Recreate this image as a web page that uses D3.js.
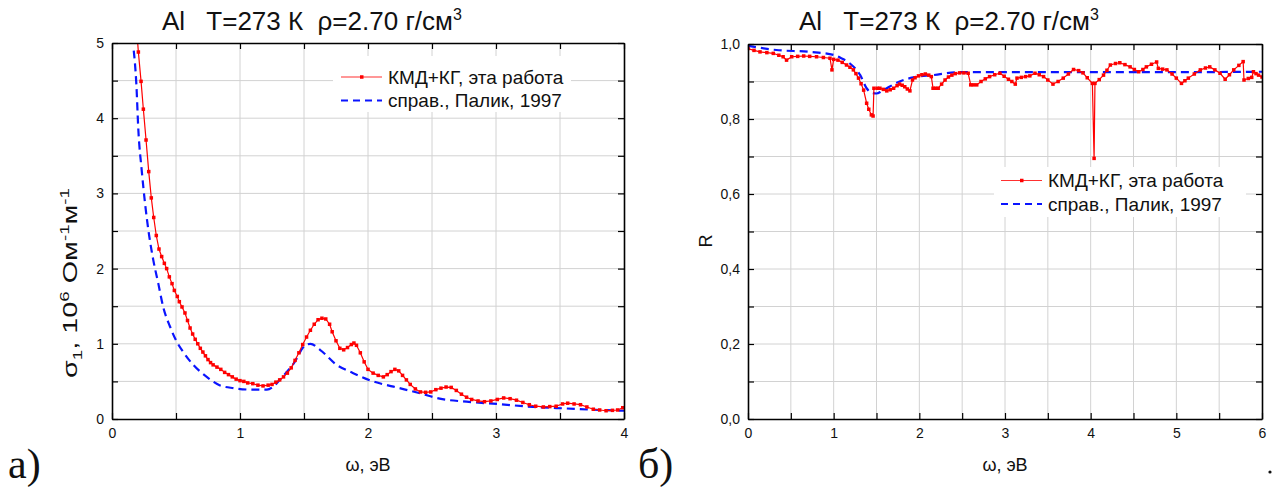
<!DOCTYPE html>
<html>
<head>
<meta charset="utf-8">
<script src="https://d3js.org/d3.v7.min.js"></script>
<style>
  body { margin: 0; background: #fff; }
  text { font-family: "Liberation Sans", Arial, sans-serif; fill: #111; white-space: pre; }
</style>
</head>
<body>
<svg id="fig" width="1280" height="490"></svg>
<script>

// ---- data: panel а) sigma_1 (10^6 Ohm^-1 m^-1) vs omega (eV)
var sigmaCalc = [
  [0.19,5.25],[0.206,4.88],[0.227,4.49],[0.245,4.12],[0.266,3.71],[0.287,3.29],[0.307,2.94],
  [0.326,2.68],[0.346,2.44],[0.367,2.26],[0.388,2.16],[0.409,2.07],[0.427,2.00],[0.448,1.89],
  [0.469,1.80],[0.487,1.71],[0.51,1.63],[0.526,1.56],[0.547,1.49],[0.57,1.41],[0.59,1.31],
  [0.61,1.21],[0.63,1.13],[0.65,1.06],[0.67,1.00],[0.69,0.94],[0.71,0.89],[0.73,0.84],
  [0.75,0.79],[0.77,0.75],[0.79,0.72],[0.82,0.69],[0.85,0.66],[0.88,0.62],[0.91,0.59],
  [0.94,0.56],[0.97,0.53],[1.00,0.51],[1.03,0.50],[1.06,0.48],[1.10,0.47],[1.14,0.45],
  [1.18,0.44],[1.22,0.45],[1.25,0.46],[1.28,0.49],[1.31,0.52],[1.34,0.56],[1.37,0.61],
  [1.40,0.68],[1.43,0.78],[1.46,0.88],[1.49,0.99],[1.52,1.09],[1.55,1.18],[1.58,1.26],
  [1.61,1.32],[1.64,1.34],[1.67,1.33],[1.70,1.26],[1.72,1.16],[1.75,1.04],[1.78,0.94],
  [1.81,0.92],[1.84,0.95],[1.87,0.99],[1.89,1.01],[1.91,0.98],[1.94,0.88],[1.97,0.76],
  [2.00,0.66],[2.04,0.61],[2.08,0.58],[2.12,0.56],[2.15,0.59],[2.18,0.63],[2.21,0.66],
  [2.24,0.64],[2.27,0.58],[2.30,0.52],[2.33,0.46],[2.37,0.40],[2.41,0.36],[2.45,0.355],
  [2.49,0.36],[2.53,0.39],[2.57,0.41],[2.61,0.425],[2.65,0.42],[2.69,0.38],[2.73,0.33],
  [2.77,0.29],[2.81,0.26],[2.86,0.24],[2.91,0.23],[2.96,0.24],[3.01,0.26],[3.06,0.28],
  [3.11,0.27],[3.16,0.25],[3.21,0.22],[3.26,0.19],[3.31,0.17],[3.37,0.16],[3.42,0.165],
  [3.47,0.17],[3.52,0.20],[3.56,0.21],[3.61,0.20],[3.66,0.19],[3.71,0.16],[3.76,0.13],
  [3.81,0.12],[3.86,0.11],[3.91,0.115],[3.95,0.12],[3.99,0.15]
];
var sigmaPalik = [
  [0.17,4.9],[0.19,4.46],[0.206,3.84],[0.232,3.31],[0.258,2.87],[0.292,2.42],[0.323,2.11],
  [0.362,1.80],[0.40,1.49],[0.453,1.23],[0.505,1.03],[0.557,0.89],[0.635,0.72],[0.74,0.56],
  [0.84,0.45],[0.95,0.41],[1.10,0.39],[1.21,0.39],[1.26,0.43],[1.31,0.52],[1.42,0.74],
  [1.51,0.98],[1.55,1.00],[1.625,0.92],[1.755,0.72],[1.885,0.61],[2.04,0.50],[2.20,0.43],
  [2.41,0.34],[2.56,0.27],[2.77,0.23],[3.01,0.20],[3.29,0.16],[3.55,0.14],[3.81,0.12],[4.0,0.11]
];

// ---- data: panel б) reflectivity R vs omega (eV)
var reflCalc = [
  [0,0.988],[0.07,0.983],[0.14,0.979],[0.22,0.977],[0.295,0.975],[0.36,0.97],[0.41,0.966],
  [0.45,0.957],[0.51,0.966],[0.58,0.967],[0.65,0.968],[0.72,0.967],[0.80,0.966],[0.88,0.964],
  [0.957,0.962],[0.98,0.931],[1.00,0.959],[1.05,0.957],[1.10,0.951],[1.15,0.944],[1.19,0.938],
  [1.23,0.931],[1.26,0.921],[1.29,0.909],[1.32,0.894],[1.35,0.877],[1.385,0.842],[1.41,0.826],
  [1.44,0.811],[1.46,0.808],[1.47,0.882],[1.51,0.882],[1.54,0.882],[1.58,0.879],[1.62,0.875],
  [1.66,0.878],[1.70,0.882],[1.74,0.889],[1.77,0.893],[1.80,0.89],[1.83,0.886],[1.86,0.88],
  [1.89,0.875],[1.92,0.904],[1.95,0.91],[1.99,0.915],[2.03,0.918],[2.07,0.92],[2.11,0.917],
  [2.14,0.913],[2.16,0.882],[2.19,0.882],[2.22,0.882],[2.26,0.893],[2.30,0.904],[2.34,0.912],
  [2.38,0.917],[2.42,0.921],[2.47,0.923],[2.52,0.923],[2.57,0.922],[2.60,0.891],[2.63,0.891],
  [2.67,0.891],[2.72,0.90],[2.77,0.907],[2.82,0.913],[2.88,0.918],[2.94,0.922],[2.99,0.914],
  [3.04,0.906],[3.08,0.90],[3.12,0.893],[3.14,0.909],[3.19,0.911],[3.24,0.913],[3.29,0.915],
  [3.35,0.922],[3.40,0.918],[3.45,0.913],[3.50,0.904],[3.56,0.893],[3.62,0.90],[3.68,0.909],
  [3.74,0.92],[3.80,0.932],[3.86,0.929],[3.91,0.923],[3.96,0.91],[4.02,0.895],[4.04,0.695],
  [4.05,0.895],[4.10,0.905],[4.15,0.917],[4.19,0.93],[4.23,0.944],[4.29,0.948],[4.34,0.95],
  [4.40,0.945],[4.46,0.939],[4.51,0.932],[4.56,0.926],[4.61,0.932],[4.65,0.939],[4.71,0.946],
  [4.77,0.952],[4.79,0.935],[4.84,0.933],[4.89,0.931],[4.95,0.92],[5.00,0.909],[5.06,0.895],
  [5.10,0.902],[5.14,0.909],[5.21,0.92],[5.28,0.931],[5.34,0.936],[5.39,0.939],[5.45,0.931],
  [5.51,0.922],[5.57,0.906],[5.62,0.918],[5.67,0.931],[5.73,0.943],[5.78,0.953],[5.79,0.904],
  [5.84,0.908],[5.88,0.911],[5.90,0.926],[5.93,0.921],[5.96,0.917],[6.0,0.912]
];
var reflPalik = [
  [0,0.995],[0.33,0.984],[0.72,0.979],[1.0,0.971],[1.09,0.962],[1.19,0.948],[1.31,0.917],
  [1.385,0.882],[1.44,0.87],[1.50,0.868],[1.56,0.874],[1.62,0.882],[1.77,0.90],[1.93,0.911],
  [2.16,0.917],[2.47,0.925],[3.0,0.925],[4.0,0.925],[5.0,0.925],[6.0,0.926]
];

// ---- ticks and labels
var sigmaXTicks = d3.range(0, 4.01, 0.5);
var sigmaYTicks = d3.range(0, 5.01, 0.5);
var reflXTicks = d3.range(0, 6.01, 0.5);
var reflYTicks = d3.range(0, 1.001, 0.1);
var seriesNames = ["КМД+КГ, эта работа", "справ., Палик, 1997"];
var titleText = "Al   T=273 К  ρ=2.70 г/см";

var svg = d3.select("#fig");
var RED = "#ff0000", BLUE = "#0a14ff";

function fmtComma(d) { return d3.format(".1f")(d).replace(".", ","); }

function panel(o) {
  var x = d3.scaleLinear().domain(o.xDomain).range([o.left, o.right]);
  var y = d3.scaleLinear().domain(o.yDomain).range([o.bottom, o.top]);
  var g = svg.append("g");

  // gridlines
  g.selectAll(".gx").data(o.xTicks.filter(function(d){ return d > o.xDomain[0] && d < o.xDomain[1]; }))
    .enter().append("line")
    .attr("x1", x).attr("x2", x).attr("y1", o.top).attr("y2", o.bottom)
    .attr("stroke", "#d2d2d2").attr("stroke-width", 1);
  g.selectAll(".gy").data(o.yTicks.filter(function(d){ return d > o.yDomain[0] + 1e-9 && d < o.yDomain[1] - 1e-9; }))
    .enter().append("line")
    .attr("y1", y).attr("y2", y).attr("x1", o.left).attr("x2", o.right)
    .attr("stroke", "#d2d2d2").attr("stroke-width", 1);

  // legend background (hides grid)
  g.append("rect").attr("x", o.legend.x0).attr("y", o.legend.y0)
    .attr("width", o.legend.w).attr("height", o.legend.h).attr("fill", "#fff");

  // clip
  var cid = "clip" + o.id;
  svg.append("clipPath").attr("id", cid).append("rect")
    .attr("x", o.left).attr("y", o.top).attr("width", o.right - o.left).attr("height", o.bottom - o.top);
  var plot = g.append("g").attr("clip-path", "url(#" + cid + ")");

  var line = d3.line().x(function(d){ return x(d[0]); }).y(function(d){ return y(d[1]); });

  plot.append("path").datum(o.ref).attr("d", line.curve(d3.curveMonotoneX))
    .attr("fill", "none").attr("stroke", BLUE).attr("stroke-width", 2.2)
    .attr("stroke-dasharray", "8,5");
  plot.append("path").datum(o.calc).attr("d", line.curve(d3.curveLinear))
    .attr("fill", "none").attr("stroke", RED).attr("stroke-width", 1.2);
  plot.selectAll(".m").data(o.calc).enter().append("rect")
    .attr("x", function(d){ return x(d[0]) - 1.75; })
    .attr("y", function(d){ return y(d[1]) - 1.75; })
    .attr("width", 3.5).attr("height", 3.5).attr("fill", RED);

  // axes with inward ticks
  var bottom = d3.axisBottom(x).tickValues(o.xTicks).tickSize(-6).tickSizeOuter(0).tickPadding(9)
    .tickFormat(function(d){ return Math.abs(d - Math.round(d)) < 1e-9 ? d3.format("d")(d) : ""; });
  var left = d3.axisLeft(y).tickValues(o.yTicks).tickSize(-6).tickSizeOuter(0).tickPadding(8)
    .tickFormat(o.yFormat);
  var top = d3.axisTop(x).tickValues(o.xTicks).tickSize(-6).tickSizeOuter(0).tickFormat("");
  var right = d3.axisRight(y).tickValues(o.yTicks).tickSize(-6).tickSizeOuter(0).tickFormat("");

  var axes = [
    g.append("g").attr("transform", "translate(0," + o.bottom + ")").call(bottom),
    g.append("g").attr("transform", "translate(" + o.left + ",0)").call(left),
    g.append("g").attr("transform", "translate(0," + o.top + ")").call(top),
    g.append("g").attr("transform", "translate(" + o.right + ",0)").call(right)
  ];
  axes.forEach(function(a){
    a.select(".domain").attr("stroke", "#000").attr("stroke-width", 1.6);
    a.selectAll(".tick line").attr("stroke", "#000").attr("stroke-width", 1.2);
    a.selectAll(".tick text").attr("font-size", 14).attr("fill", "#111")
      .attr("font-family", "'Liberation Sans', Arial, sans-serif");
  });

  // title
  var t = g.append("text").attr("x", o.titleX).attr("y", 30).attr("font-size", 26);
  t.append("tspan").text(titleText);
  t.append("tspan").attr("font-size", 16).attr("dy", -10).text("3");

  // x label
  g.append("text").attr("x", (o.left + o.right) / 2).attr("y", 471)
    .attr("text-anchor", "middle").attr("font-size", 18).text("ω, эВ");

  // legend
  var L = o.legend;
  seriesNames.forEach(function(name, i){
    var base = L.base + i * 23.5;
    var yy = base - 6.5;
    if (i === 0) {
      g.append("line").attr("x1", L.lx).attr("x2", L.lx + 41).attr("y1", yy).attr("y2", yy)
        .attr("stroke", "#ff3030").attr("stroke-width", 1.2);
      g.append("rect").attr("x", L.lx + 19).attr("y", yy - 1.75).attr("width", 3.5).attr("height", 3.5)
        .attr("fill", RED);
    } else {
      g.append("line").attr("x1", L.lx).attr("x2", L.lx + 41).attr("y1", yy).attr("y2", yy)
        .attr("stroke", BLUE).attr("stroke-width", 2.2).attr("stroke-dasharray", "7,5");
    }
    g.append("text").attr("x", L.lx + 47).attr("y", base).attr("font-size", 19).text(name);
  });

  // panel tag
  svg.append("text").attr("x", o.tagX).attr("y", 478)
    .attr("font-size", 42).style("font-family", "'Liberation Serif', 'DejaVu Serif', serif").text(o.tag);

  return { x: x, y: y, g: g };
}

var pa = panel({
  id: "a", left: 112, right: 624, top: 43, bottom: 419,
  xDomain: [0, 4], yDomain: [0, 5], xTicks: sigmaXTicks, yTicks: sigmaYTicks,
  yFormat: function(d){ return Math.abs(d - Math.round(d)) < 1e-9 ? d3.format("d")(d) : ""; },
  calc: sigmaCalc, ref: sigmaPalik, titleX: 162, tag: "а)", tagX: 8,
  legend: { x0: 333, y0: 56, w: 238, h: 56, lx: 341, base: 83.5 }
});

var pb = panel({
  id: "b", left: 748, right: 1262, top: 44, bottom: 419,
  xDomain: [0, 6], yDomain: [0, 1], xTicks: reflXTicks, yTicks: reflYTicks,
  yFormat: function(d){ var k = Math.round(d * 10); return k % 2 === 0 ? fmtComma(d) : ""; },
  calc: reflCalc, ref: reflPalik, titleX: 799, tag: "б)", tagX: 638,
  legend: { x0: 994, y0: 167, w: 252, h: 50, lx: 1001, base: 187 }
});

// y labels
var yl = svg.append("text").attr("transform", "translate(77,283) rotate(-90)")
  .attr("text-anchor", "middle").attr("font-size", 20)
  .attr("textLength", 190).attr("lengthAdjust", "spacingAndGlyphs");
yl.append("tspan").text("σ");
yl.append("tspan").attr("font-size", 13).attr("dy", 5).text("1");
yl.append("tspan").attr("dy", -5).text(", 10");
yl.append("tspan").attr("font-size", 13).attr("dy", -8).text("6");
yl.append("tspan").attr("dy", 8).text(" Ом");
yl.append("tspan").attr("font-size", 13).attr("dy", -8).text("-1");
yl.append("tspan").attr("dy", 8).text("м");
yl.append("tspan").attr("font-size", 13).attr("dy", -8).text("-1");

svg.append("text").attr("transform", "translate(712,241) rotate(-90)")
  .attr("text-anchor", "middle").attr("font-size", 18).text("R");

// trailing period
svg.append("circle").attr("cx", 1270).attr("cy", 472).attr("r", 1.6).attr("fill", "#111");

</script>
</body>
</html>
